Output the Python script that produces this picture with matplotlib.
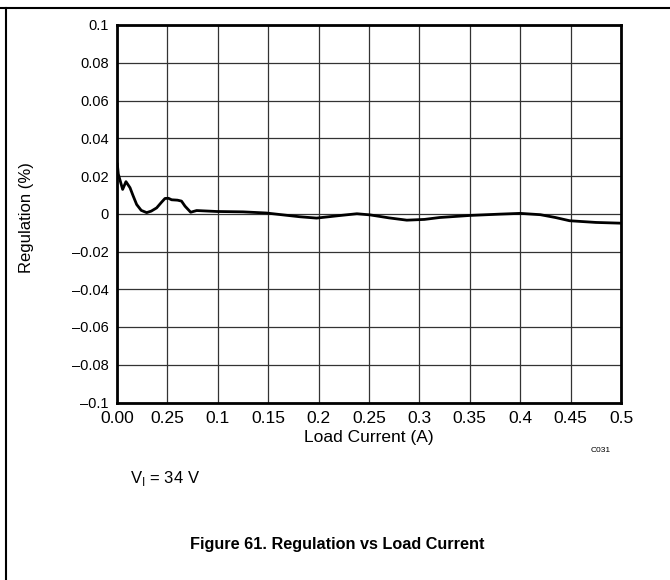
import matplotlib
matplotlib.use('Agg')
from matplotlib import pyplot as plt
from matplotlib.lines import Line2D

plt.rcParams['font.family'] = ['Liberation Sans', 'DejaVu Sans']

# load current (A) and regulation (%)
load_current = [0.0003, 0.0013, 0.0056, 0.0089, 0.0129, 0.0160, 0.0195, 0.0240,
                0.0294, 0.0340, 0.0393, 0.0440, 0.0476, 0.0510, 0.0542, 0.0600,
                0.0640, 0.0675, 0.0731, 0.0790, 0.0989, 0.1250, 0.1480, 0.1680,
                0.1815, 0.1980, 0.2200, 0.2380, 0.2510, 0.2700, 0.2875, 0.3050,
                0.3200, 0.3500, 0.3800, 0.4000, 0.4200, 0.4350, 0.4490, 0.4750,
                0.5000]
regulation = [0.0263, 0.0210, 0.0129, 0.0170, 0.0138, 0.0095, 0.0049, 0.0018,
              0.0006, 0.0014, 0.0031, 0.0060, 0.0081, 0.0082, 0.0074, 0.0072,
              0.0067, 0.0040, 0.0008, 0.0017, 0.0012, 0.0010, 0.0004, -0.0008,
              -0.0016, -0.0023, -0.0010, 0.0000, -0.0006, -0.0022, -0.0034, -0.0030,
              -0.0020, -0.0009, -0.0002, 0.0002, -0.0005, -0.0020, -0.0037, -0.0046,
              -0.0050]

x_ticks = [0.0, 0.05, 0.1, 0.15, 0.2, 0.25, 0.3, 0.35, 0.4, 0.45, 0.5]
x_labels = ['0.00', '0.25', '0.1', '0.15', '0.2', '0.25', '0.3', '0.35', '0.4',
            '0.45', '0.5']
y_ticks = [0.1, 0.08, 0.06, 0.04, 0.02, 0.0, -0.02, -0.04, -0.06, -0.08, -0.1]
y_labels = ['0.1', '0.08', '0.06', '0.04', '0.02', '0', '\u20130.02', '\u20130.04',
            '\u20130.06', '\u20130.08', '\u20130.1']

fig = plt.figure(figsize=(6.7, 5.8), dpi=100)
ax = fig.add_axes([117 / 670, 1 - 402.5 / 580, 504 / 670, 377.5 / 580])

ax.plot(load_current, regulation, color='black', linewidth=2)

ax.set_xlim(0, 0.5)
ax.set_ylim(-0.1, 0.1)
ax.set_xticks(x_ticks)
ax.set_xticklabels(x_labels)
ax.set_yticks(y_ticks)
ax.set_yticklabels(y_labels)
ax.tick_params(length=0)
ax.tick_params(axis='x', labelsize=12.5, pad=6)
ax.tick_params(axis='y', labelsize=10.5, pad=6)
ax.grid(True, color='#333333', linewidth=0.9)
for s in ax.spines.values():
    s.set_linewidth(2)

ax.set_xlabel('Load Current (A)', fontsize=12.5, labelpad=3)
ax.set_ylabel('Regulation (%)', fontsize=12, va='center')
ax.yaxis.set_label_coords((27 - 117) / 504, 0.49)

fig.text(601 / 670, 1 - 451 / 580, 'C031', fontsize=6, ha='center', va='center')
fig.text(130 / 670, 1 - 479 / 580, r'V$_\mathregular{I}$ = 34 V', fontsize=12,
         ha='left', va='center')
fig.text(337 / 670, 1 - 545 / 580, 'Figure 61. Regulation vs Load Current',
         fontsize=11.7, fontweight='bold', ha='center', va='center')

# page frame (top and left rules)
fig.add_artist(Line2D([0, 1], [1 - 8 / 580, 1 - 8 / 580], color='black', linewidth=1.5,
                      transform=fig.transFigure))
fig.add_artist(Line2D([5.5 / 670, 5.5 / 670], [0, 1 - 8 / 580], color='black',
                      linewidth=1.5, transform=fig.transFigure))

fig.savefig('out.png', dpi=100)
